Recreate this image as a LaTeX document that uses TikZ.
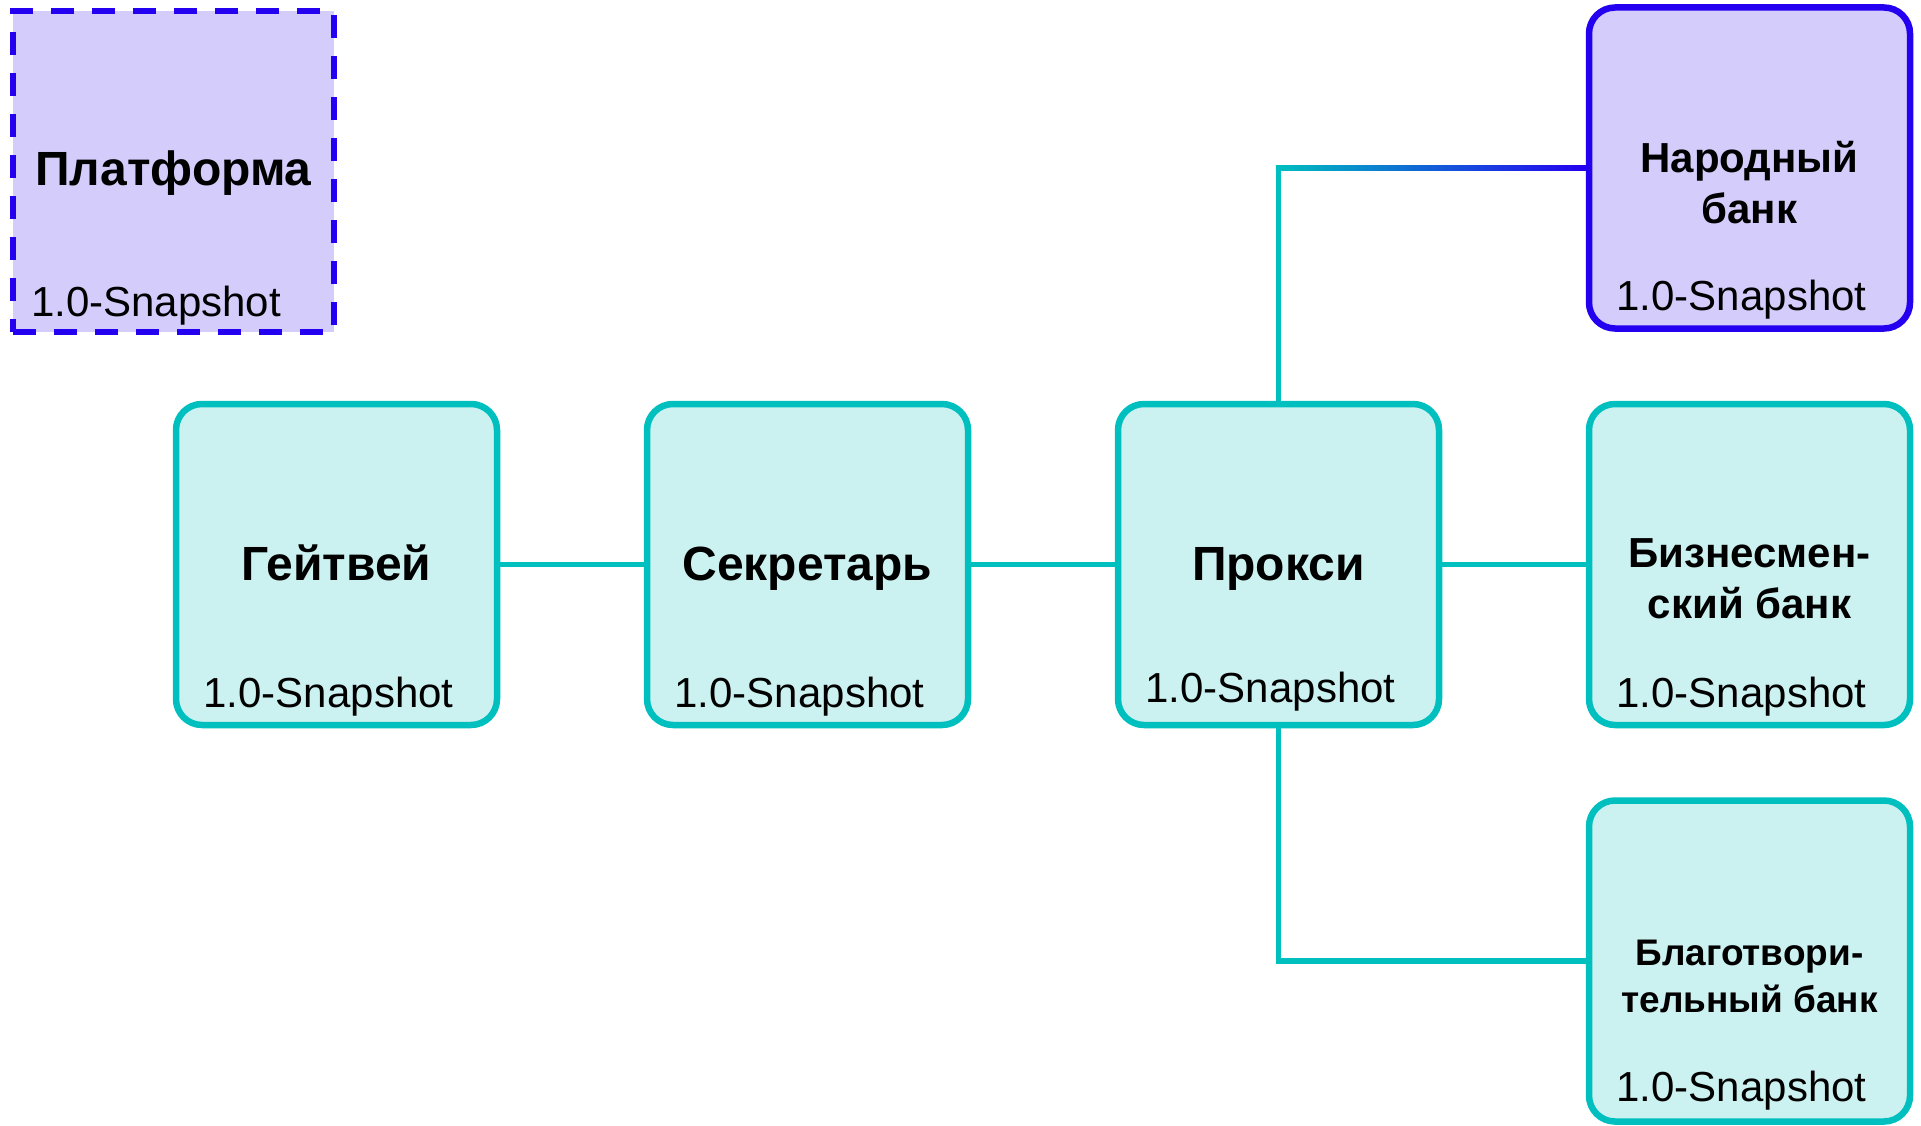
\documentclass[tikz,border=0pt]{standalone}
\usepackage{fontspec}
\setmainfont{Liberation Sans}
\usetikzlibrary{positioning, calc}
\definecolor{tealline}{HTML}{00BFBF}
\definecolor{tealfill}{HTML}{CCF1F1}
\definecolor{blueline}{HTML}{2400F0}
\definecolor{lavfill}{HTML}{D4CCFA}

\begin{document}
\begin{tikzpicture}[x=1pt, y=-1pt,
  every node/.style={inner sep=0pt, text=black},
  svcbox/.style={rectangle, rounded corners=26pt, minimum width=321pt, minimum height=321pt, line width=6.5pt, draw=tealline, fill=tealfill},
  bankbox/.style={svcbox, draw=blueline, fill=lavfill},
  platbox/.style={rectangle, minimum width=321pt, minimum height=321pt, line width=6pt, draw=blueline, fill=lavfill, dash pattern=on 23pt off 18pt},
  title/.style={font=\fontsize{48}{54}\selectfont\bfseries, anchor=base, align=center},
  banktitle/.style={font=\fontsize{42}{51}\selectfont\bfseries, anchor=base, align=center},
  version/.style={font=\fontsize{42}{48}\selectfont, anchor=base},
  link/.style={draw=tealline, line width=5.5pt}]
\useasboundingbox (0,0) rectangle (1921,1126);

% boxes
\node[platbox] (plat) at (173.5,171.5) {};
\node[svcbox] (gw) at (336.5,564.5) {};
\node[svcbox, right=143.5pt of gw] (sec) {};
\node[svcbox, right=143.5pt of sec] (prx) {};
\node[svcbox, right=143.5pt of prx] (biz) {};
\node[bankbox, above=69pt of biz] (nar) {};
\node[svcbox, below=69pt of biz] (bla) {};

% titles
\node[title] (plat-t) at ([yshift=-14pt]plat.center) {Платформа};
\node[title] (gw-t) at ([yshift=-16pt]gw.center) {Гейтвей};
\node[title] (sec-t) at ([yshift=-16pt]sec.center) {Секретарь};
\node[title] (prx-t) at ([yshift=-16pt]prx.center) {Прокси};
\node[banktitle] (nar-t) at ([yshift=-55pt]nar.center) {Народный\\банк};
\node[banktitle] (biz-t) at ([yshift=-53.5pt]biz.center) {Бизнесмен-\\ский банк};
\node[banktitle, font=\fontsize{37}{47}\selectfont\bfseries] (bla-t) at ([yshift=-51pt]bla.center) {Благотвори-\\тельный банк};

% versions
\node[version, anchor=base west] (plat-v) at ([xshift=21pt, yshift=19pt]plat.south west) {1.0-Snapshot};
\node[version] (gw-v) at ([xshift=-8pt, yshift=21pt]gw.south) {1.0-Snapshot};
\node[version] (sec-v) at ([xshift=-8pt, yshift=21pt]sec.south) {1.0-Snapshot};
\node[version] (prx-v) at ([xshift=-8pt, yshift=26pt]prx.south) {1.0-Snapshot};
\node[version] (nar-v) at ([xshift=-8pt, yshift=21pt]nar.south) {1.0-Snapshot};
\node[version] (biz-v) at ([xshift=-8pt, yshift=21pt]biz.south) {1.0-Snapshot};
\node[version] (bla-v) at ([xshift=-8pt, yshift=23pt]bla.south) {1.0-Snapshot};

% links
\draw[link] (gw.east) -- (sec.west);
\draw[link] (sec.east) -- (prx.west);
\draw[link] (prx.east) -- (biz.west);
\draw[link, line cap=rect] (prx.north) -- (prx.north |- nar.west);
\shade[left color=tealline, right color=blueline] ($(prx.north |- nar.west)+(-2.75,-2.75)$) rectangle ($(nar.west)+(0,2.75)$);
\draw[link] (prx.south) |- (bla.west);
\end{tikzpicture}
\end{document}
